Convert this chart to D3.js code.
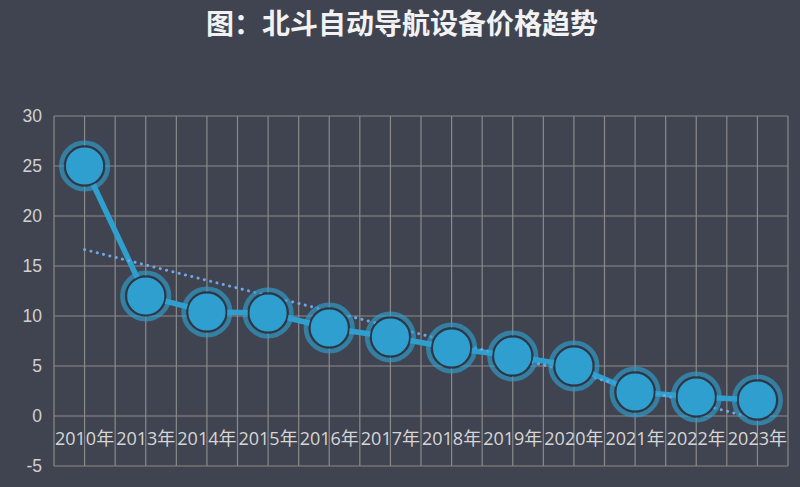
<!DOCTYPE html>
<html><head><meta charset="utf-8">
<script src="https://cdn.jsdelivr.net/npm/d3@7"></script>
<style>html,body{margin:0;padding:0;background:#404451;}svg{display:block;}</style>
</head><body>
<svg id="c" width="800" height="487"></svg>
<script>
const categories = ["2010年","2013年","2014年","2015年","2016年","2017年","2018年","2019年","2020年","2021年","2022年","2023年"];
const prices = [25, 12, 10.4, 10.3, 8.8, 7.9, 6.8, 6.0, 5.0, 2.4, 1.9, 1.6];
const yTicks = [-5, 0, 5, 10, 15, 20, 25, 30];
const title = "图：北斗自动导航设备价格趋势";

const svg = d3.select("#c");
const W = 800, H = 487;
svg.append("rect").attr("width", W).attr("height", H).attr("fill", "#404451");
const m = {left: 54, right: 12, top: 116, bottom: 21};
const x = d3.scaleBand().domain(categories).range([m.left, W - m.right]).padding(0);
const y = d3.scaleLinear().domain([-5, 30]).range([H - m.bottom, m.top]);

const g = svg.append("g");
const gridColor = "#8a8a8a";
g.selectAll(".hg").data(yTicks).join("line")
  .attr("x1", m.left).attr("x2", W - m.right)
  .attr("y1", d => y(d)).attr("y2", d => y(d))
  .attr("stroke", gridColor).attr("stroke-width", 1.2);
const vlines = [];
categories.forEach(c => { vlines.push(x(c)); vlines.push(x(c) + x.bandwidth() / 2); });
vlines.push(W - m.right);
g.selectAll(".vg").data(vlines).join("line")
  .attr("x1", d => d).attr("x2", d => d)
  .attr("y1", m.top).attr("y2", H - m.bottom)
  .attr("stroke", gridColor).attr("stroke-width", 1.2);

g.selectAll(".yl").data(yTicks).join("text")
  .attr("x", 42).attr("y", d => y(d)).attr("dy", "0.36em")
  .attr("text-anchor", "end")
  .attr("font-family", "Liberation Sans, Arial, sans-serif").attr("font-size", 17.5)
  .attr("fill", "#d0d0d0").text(d => d);

g.selectAll(".xl").data(categories).join("text")
  .attr("x", d => x(d) + x.bandwidth() / 2).attr("y", 445)
  .attr("text-anchor", "middle")
  .attr("font-family", "'Open Sans', 'Noto Sans CJK SC', sans-serif").attr("font-size", 18)
  .attr("fill", "#d6d6d6").text(d => d);

const cx = d => x(d) + x.bandwidth() / 2;
const color = "#2e9fce";

const line = d3.line().x((d, i) => cx(categories[i])).y(d => y(d));
g.append("path").datum(prices).attr("d", line)
  .attr("fill", "none").attr("stroke", color).attr("stroke-width", 5.5);

const n = prices.length;
const mx = d3.mean(d3.range(n)), my = d3.mean(prices);
const sxy = d3.sum(prices, (v, i) => (i - mx) * (v - my));
const sxx = d3.sum(d3.range(n), i => (i - mx) * (i - mx));
const slope = sxy / sxx, icpt = my - slope * mx;
const trend = [icpt, icpt + slope * (n - 1)];
g.append("line")
  .attr("x1", cx(categories[0])).attr("y1", y(trend[0]))
  .attr("x2", cx(categories[n - 1])).attr("y2", y(trend[1]))
  .attr("stroke", "#6fa6e6").attr("stroke-width", 3)
  .attr("stroke-linecap", "round").attr("stroke-dasharray", "0.1 6.4");

const pts = g.selectAll(".pt").data(prices).join("g")
  .attr("transform", (d, i) => `translate(${cx(categories[i])},${y(d)})`);
pts.append("circle").attr("r", 23.3).attr("fill", "none")
  .attr("stroke", "#2e9fce").attr("stroke-opacity", 0.65).attr("stroke-width", 4.6);
pts.append("circle").attr("r", 19.5).attr("fill", color)
  .attr("stroke", "#2b3747").attr("stroke-width", 1.8);

svg.append("text").attr("x", 402).attr("y", 34).attr("text-anchor", "middle")
  .attr("font-family", "'Noto Sans CJK SC', sans-serif").attr("font-weight", "bold")
  .attr("font-size", 28).attr("fill", "#f2f2f2").text(title);
</script>
</body></html>
